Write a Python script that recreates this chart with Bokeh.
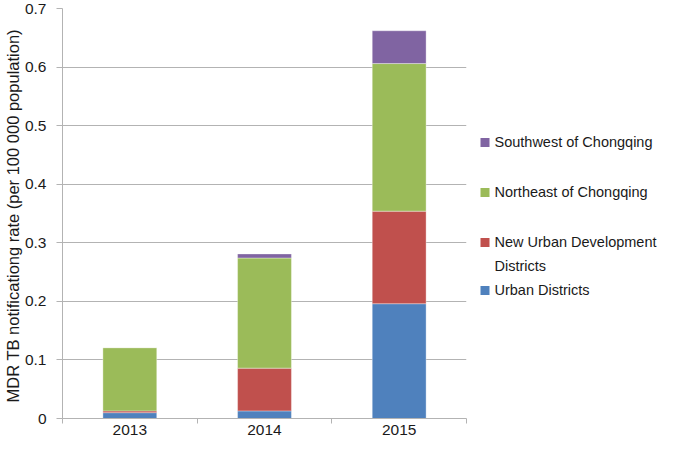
from bokeh.plotting import figure
from bokeh.layouts import row
from bokeh.models import (ColumnDataSource, Range1d, FixedTicker, NumeralTickFormatter)
from bokeh.core.properties import value
from bokeh.embed import file_html
from bokeh.resources import INLINE

years = ["2013", "2014", "2015"]
urban = [0.010, 0.013, 0.196]
new_urban = [0.003, 0.073, 0.158]
northeast = [0.108, 0.188, 0.252]
southwest = [0.000, 0.007, 0.056]
series_names = ["Urban Districts", "New Urban Development\nDistricts", "Northeast of Chongqing", "Southwest of Chongqing"]
colors = ["#4F81BD", "#C0504D", "#9BBB59", "#8064A2"]
y_ticks = [0, 0.1, 0.2, 0.3, 0.4, 0.5, 0.6, 0.7]

FONT = "Liberation Sans"
TXT = "#1a1a1a"
GRID = "#b3b3b3"
FS = "15.5px"

W_MAIN, W_LEG, H = 467, 192, 437
B_TOP, B_BOTTOM = 8, 19

xpos = [i + 0.5 for i in range(len(years))]
source = ColumnDataSource(dict(x=xpos, u=urban, n=new_urban, ne=northeast, sw=southwest))

p = figure(width=W_MAIN, height=H, output_backend="svg", toolbar_location=None,
           x_range=Range1d(0, len(years)), y_range=Range1d(0, 0.7),
           min_border_left=61, min_border_right=1, min_border_top=B_TOP, min_border_bottom=B_BOTTOM)
p.outline_line_color = None

rs = p.vbar_stack(["u", "n", "ne", "sw"], x="x", width=0.4, color=colors, source=source,
                  line_color="white", line_width=0.6, line_alpha=0.6)

p.xgrid.visible = False
p.ygrid.grid_line_color = GRID
p.ygrid.ticker = FixedTicker(ticks=y_ticks)

xa = p.xaxis[0]
xa.ticker = FixedTicker(ticks=xpos, minor_ticks=[float(i) for i in range(len(years) + 1)])
xa.major_label_overrides = {x: y for x, y in zip(xpos, years)}
xa.major_tick_line_color = None
xa.major_tick_out = 0
xa.major_tick_in = 0
xa.minor_tick_out = 5
xa.minor_tick_in = 0
xa.minor_tick_line_color = GRID
xa.axis_line_color = GRID
xa.major_label_standoff = 1
xa.major_label_text_font = FONT
xa.major_label_text_font_size = FS
xa.major_label_text_color = TXT

ya = p.yaxis[0]
ya.ticker = FixedTicker(ticks=y_ticks)
ya.formatter = NumeralTickFormatter(format="0.[0]")
ya.major_tick_out = 6
ya.major_tick_in = 0
ya.minor_tick_line_color = None
ya.major_tick_line_color = GRID
ya.axis_line_color = GRID
ya.major_label_standoff = 10
ya.major_label_text_font = FONT
ya.major_label_text_font_size = FS
ya.major_label_text_color = TXT
ya.axis_label = "MDR TB notificationg rate  (per 100 000 population)"
ya.axis_label_text_font = FONT
ya.axis_label_text_font_size = "16.5px"
ya.axis_label_text_font_style = "normal"
ya.axis_label_text_color = TXT
ya.axis_label_standoff = 0

# ---- legend panel (reversed order, as in the reference) ----
leg_labels = list(reversed(series_names))
leg_colors = list(reversed(colors))
leg_y = [142, 192, 242, 290]          # layout positions (pixels from top)
leg_square_x = 484.5
leg_text_x = 494

lg = figure(width=W_LEG, height=H, output_backend="svg", toolbar_location=None,
            x_range=Range1d(W_MAIN, W_MAIN + W_LEG), y_range=Range1d(H - B_BOTTOM, B_TOP),
            x_axis_type=None, y_axis_type=None,
            min_border_left=0, min_border_right=0, min_border_top=B_TOP, min_border_bottom=B_BOTTOM)
lg.outline_line_color = None
lg.grid.visible = False
lg.scatter(x=[leg_square_x] * len(leg_y), y=leg_y, marker="square", size=9,
           fill_color=leg_colors, line_color=None)
lg.text(x=[leg_text_x] * len(leg_y), y=leg_y, text=leg_labels,
        text_font=value(FONT), text_font_size="14.5px", text_color=TXT,
        text_baseline="top", text_align="left", y_offset=-9, text_line_height=1.5)

layout = row(p, lg, spacing=0)
open("out.html", "w").write(file_html(layout, INLINE))
